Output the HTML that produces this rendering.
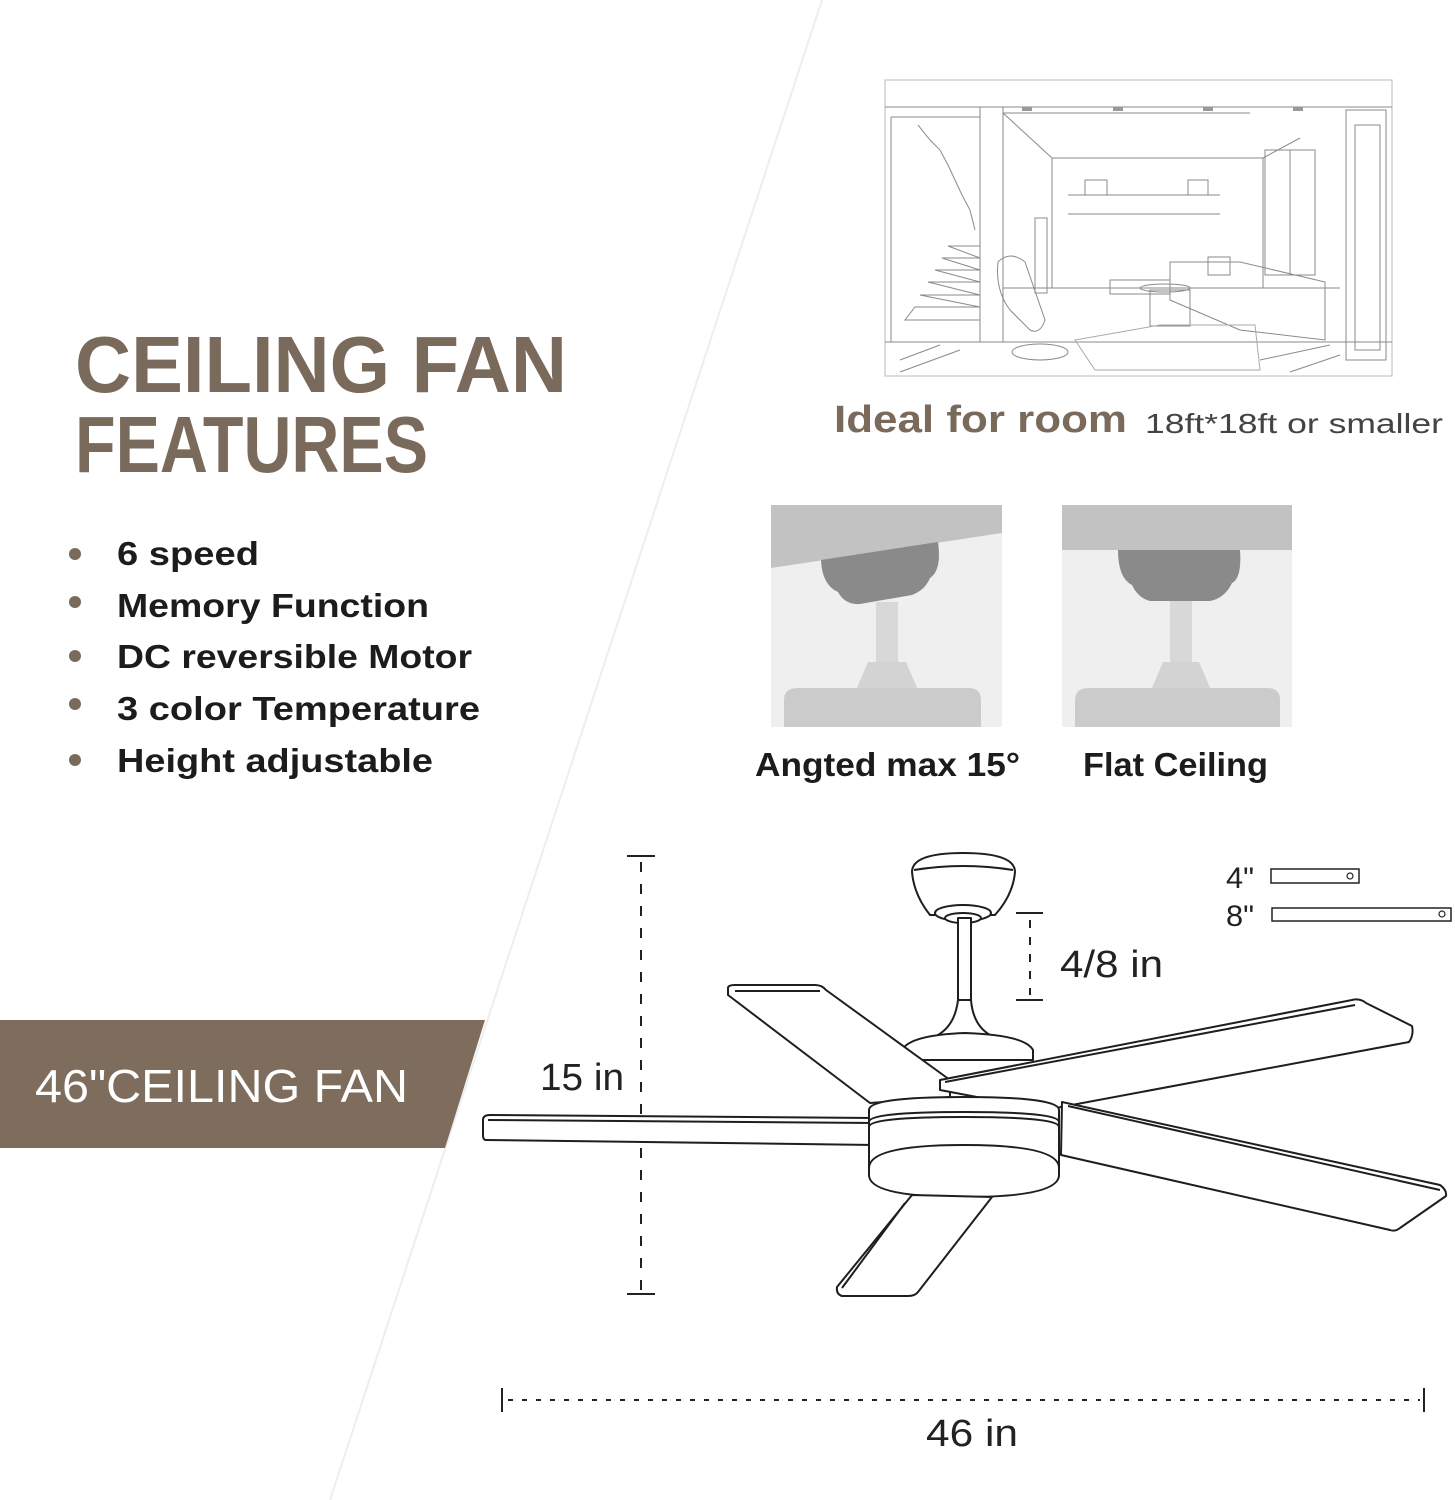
<!DOCTYPE html>
<html><head><meta charset="utf-8"><style>
html,body{margin:0;padding:0;background:#fff;}
svg{display:block;}
text{font-family:"Liberation Sans",sans-serif;}
</style></head><body>
<svg width="1455" height="1500" viewBox="0 0 1455 1500" xmlns="http://www.w3.org/2000/svg">
<rect width="1455" height="1500" fill="#fff"/>
<line x1="822" y1="0" x2="330" y2="1500" stroke="#eeeeee" stroke-width="2"/>

<!-- Title -->
<text x="75" y="392" font-size="80" font-weight="bold" fill="#7a6a5b" textLength="492" lengthAdjust="spacingAndGlyphs">CEILING FAN</text>
<text x="75" y="472" font-size="80" font-weight="bold" fill="#7a6a5b" textLength="353" lengthAdjust="spacingAndGlyphs">FEATURES</text>

<!-- Bullets -->
<g fill="#1c1c1c" font-size="33" font-weight="bold">
<circle cx="75" cy="554" r="6" fill="#7a6a5b"/><text x="117" y="565" textLength="142" lengthAdjust="spacingAndGlyphs">6 speed</text>
<circle cx="75" cy="602" r="6" fill="#7a6a5b"/><text x="117" y="617" textLength="312" lengthAdjust="spacingAndGlyphs">Memory Function</text>
<circle cx="75" cy="656" r="6" fill="#7a6a5b"/><text x="117" y="668" textLength="355" lengthAdjust="spacingAndGlyphs">DC reversible Motor</text>
<circle cx="75" cy="704" r="6" fill="#7a6a5b"/><text x="117" y="720" textLength="363" lengthAdjust="spacingAndGlyphs">3 color Temperature</text>
<circle cx="75" cy="760" r="6" fill="#7a6a5b"/><text x="117" y="772" textLength="316" lengthAdjust="spacingAndGlyphs">Height adjustable</text>
</g>

<!-- Band -->
<polygon points="0,1020 485,1020 445,1148 0,1148" fill="#7e6d5d"/>
<text x="35" y="1102" font-size="46" fill="#fff" textLength="373" lengthAdjust="spacingAndGlyphs">46"CEILING FAN</text>

<!-- Room sketch -->
<g fill="none" stroke="#8a8a8a" stroke-width="1">
<rect x="885" y="80" width="507" height="296" stroke="#bbb"/>
<line x1="885" y1="107" x2="1392" y2="107"/>
<line x1="1003" y1="113" x2="1250" y2="113"/>
<rect x="1052" y="158" width="211" height="130"/>
<line x1="1003" y1="113" x2="1052" y2="158"/>
<line x1="1300" y1="138" x2="1263" y2="158"/>
<rect x="980" y="107" width="23" height="235"/>
<line x1="891" y1="117" x2="980" y2="117"/>
<line x1="891" y1="117" x2="891" y2="342"/>
<line x1="885" y1="342" x2="1392" y2="342"/>
<line x1="1003" y1="288" x2="1052" y2="288"/>
<line x1="1263" y1="288" x2="1340" y2="288"/>
<polyline points="905,320 980,320 905,320 915,307 980,307 920,295 980,295 928,282 980,282 935,270 980,270 942,258 980,258 948,246 980,246"/>
<polyline points="918,125 930,140 940,150 948,165 955,180 962,195 970,210 975,230"/>
<rect x="1346" y="110" width="40" height="250"/>
<rect x="1355" y="125" width="25" height="225"/>
<rect x="1265" y="150" width="50" height="125"/>
<line x1="1290" y1="150" x2="1290" y2="275"/>
<line x1="1068" y1="195" x2="1220" y2="195"/><line x1="1068" y1="214" x2="1220" y2="214"/>
<rect x="1085" y="180" width="22" height="15"/><rect x="1188" y="180" width="20" height="15"/>
<rect x="1035" y="218" width="12" height="75"/>
<path d="M998,262 Q1010,250 1025,262 L1045,320 Q1040,335 1030,330 L1010,310 Q995,290 998,262Z"/>
<ellipse cx="1040" cy="352" rx="28" ry="8"/>
<rect x="1110" y="280" width="60" height="14"/>
<path d="M1170,262 L1240,262 L1325,282 L1325,340 L1240,330 L1170,300Z"/>
<rect x="1208" y="257" width="22" height="18"/>
<ellipse cx="1165" cy="288" rx="25" ry="4"/>
<rect x="1150" y="290" width="40" height="36"/>
<polygon points="1075,340 1160,325 1255,325 1260,370 1095,370" stroke="#aaa"/>
<line x1="900" y1="360" x2="940" y2="345"/><line x1="900" y1="372" x2="960" y2="350"/><line x1="1260" y1="360" x2="1330" y2="345"/><line x1="1290" y1="372" x2="1340" y2="355"/>
</g>
<g fill="#999">
<rect x="1022" y="107" width="10" height="4"/><rect x="1113" y="107" width="10" height="4"/><rect x="1203" y="107" width="10" height="4"/><rect x="1293" y="107" width="10" height="4"/>
</g>
<text x="834" y="432" font-size="38" font-weight="bold" fill="#7a6a5b" textLength="293" lengthAdjust="spacingAndGlyphs">Ideal for room</text>
<text x="1145" y="433" font-size="28" fill="#444" textLength="298" lengthAdjust="spacingAndGlyphs">18ft*18ft or smaller</text>

<!-- Ceiling icons -->
<rect x="771" y="505" width="231" height="222" fill="#efefef"/>
<polygon points="771,505 1002,505 1002,533 771,568" fill="#c2c2c2"/>
<path d="M821,560 L938,542 Q942,570 930,578 Q925,590 912,595 L860,604 Q845,605 838,592 Q822,585 821,560Z" fill="#8a8a8a"/>
<rect x="876" y="602" width="22" height="64" fill="#d8d8d8"/>
<polygon points="868,662 906,662 918,690 856,690" fill="#d3d3d3"/>
<path d="M784,727 L784,700 Q784,688 798,688 L968,688 Q981,688 981,700 L981,727Z" fill="#cbcbcb"/>

<rect x="1062" y="505" width="230" height="222" fill="#efefef"/>
<rect x="1062" y="505" width="230" height="45" fill="#c2c2c2"/>
<path d="M1118,550 L1240,550 Q1242,578 1232,583 Q1225,598 1210,601 L1150,601 Q1138,598 1132,585 Q1118,578 1118,550Z" fill="#8a8a8a"/>
<rect x="1170" y="601" width="22" height="65" fill="#d8d8d8"/>
<polygon points="1163,662 1199,662 1211,690 1151,690" fill="#d3d3d3"/>
<path d="M1075,727 L1075,700 Q1075,688 1089,688 L1267,688 Q1280,688 1280,700 L1280,727Z" fill="#cbcbcb"/>
<text x="755" y="776" font-size="33" font-weight="bold" fill="#1c1c1c" textLength="265" lengthAdjust="spacingAndGlyphs">Angted max 15°</text>
<text x="1083" y="776" font-size="33" font-weight="bold" fill="#1c1c1c" textLength="185" lengthAdjust="spacingAndGlyphs">Flat Ceiling</text>

<!-- Dimensions -->
<g stroke="#222" stroke-width="2" fill="none">
<line x1="627" y1="856" x2="655" y2="856"/><line x1="627" y1="1294" x2="655" y2="1294"/>
<line x1="641" y1="862" x2="641" y2="1290" stroke-dasharray="10,12"/>
<line x1="1016" y1="913" x2="1043" y2="913"/><line x1="1016" y1="1000" x2="1043" y2="1000"/>
<line x1="1030" y1="920" x2="1030" y2="995" stroke-dasharray="8,9"/>
<line x1="502" y1="1388" x2="502" y2="1412"/><line x1="1424" y1="1388" x2="1424" y2="1412"/>
<line x1="508" y1="1400" x2="1420" y2="1400" stroke-dasharray="5,9"/>
<rect x="1271" y="869" width="88" height="14" stroke-width="1.5"/>
<circle cx="1350" cy="876" r="3" stroke-width="1.2"/>
<rect x="1272" y="908" width="179" height="13" stroke-width="1.5"/>
<circle cx="1442" cy="914" r="3" stroke-width="1.2"/>
</g>
<g fill="#222" font-size="38">
<text x="540" y="1090" textLength="84" lengthAdjust="spacingAndGlyphs">15 in</text>
<text x="1060" y="977" textLength="103" lengthAdjust="spacingAndGlyphs">4/8 in</text>
<text x="926" y="1446" textLength="92" lengthAdjust="spacingAndGlyphs">46 in</text>
<text x="1226" y="888" font-size="30" textLength="28" lengthAdjust="spacingAndGlyphs">4"</text>
<text x="1226" y="926" font-size="30" textLength="28" lengthAdjust="spacingAndGlyphs">8"</text>
</g>

<!-- Fan -->
<g stroke="#1e1e1e" stroke-width="2" fill="#fff" stroke-linejoin="round">
<path d="M912,872 Q912,853 963,853 Q1015,853 1015,872 Q1013,895 995,915 L930,915 Q914,895 912,872Z"/>
<path d="M914,870 Q963,862 1013,870" fill="none"/>
<ellipse cx="963" cy="913" rx="28" ry="8"/>
<ellipse cx="963" cy="918" rx="18" ry="5"/>
<rect x="958" y="918" width="13" height="82"/>
<path d="M958,1000 Q955,1025 938,1035 L990,1035 Q973,1025 971,1000Z"/>
<path d="M902,1050 Q910,1035 965,1033 Q1025,1035 1033,1050 L1033,1060 L902,1060Z"/>
<path d="M483,1120 Q483,1115 490,1115 L875,1118 L875,1145 L486,1140 Q483,1140 483,1135Z"/>
<line x1="488" y1="1120" x2="875" y2="1123"/>
<path d="M728,988 Q728,985 735,985 L815,985 Q822,985 826,990 L950,1080 L950,1097 L870,1103 L728,995Z"/>
<line x1="735" y1="991" x2="820" y2="991"/>
<path d="M940,1080 L1352,1000 Q1360,998 1366,1003 L1412,1026 Q1414,1035 1409,1042 L1045,1110 L940,1090Z"/>
<line x1="945" y1="1082" x2="1355" y2="1005"/>
<path d="M869,1110 Q869,1097 964,1097 Q1059,1097 1059,1110 L1059,1175 Q1059,1197 964,1197 Q869,1197 869,1175Z"/>
<path d="M869,1122 Q869,1112 964,1112 Q1059,1112 1059,1122" fill="none"/>
<path d="M869,1127 Q869,1117 964,1117 Q1059,1117 1059,1127" fill="none"/>
<path d="M869,1168 Q869,1145 964,1145 Q1059,1145 1059,1168" fill="none"/>
<path d="M1062,1102 L1440,1185 Q1447,1190 1446,1196 L1400,1228 Q1395,1232 1390,1230 L1061,1155Z"/>
<line x1="1068" y1="1106" x2="1440" y2="1190"/>
<path d="M912,1195 L992,1197 L918,1292 Q915,1296 908,1296 L842,1296 Q836,1294 837,1287Z"/>
<line x1="905" y1="1203" x2="842" y2="1288"/>
</g>
</svg>
</body></html>
